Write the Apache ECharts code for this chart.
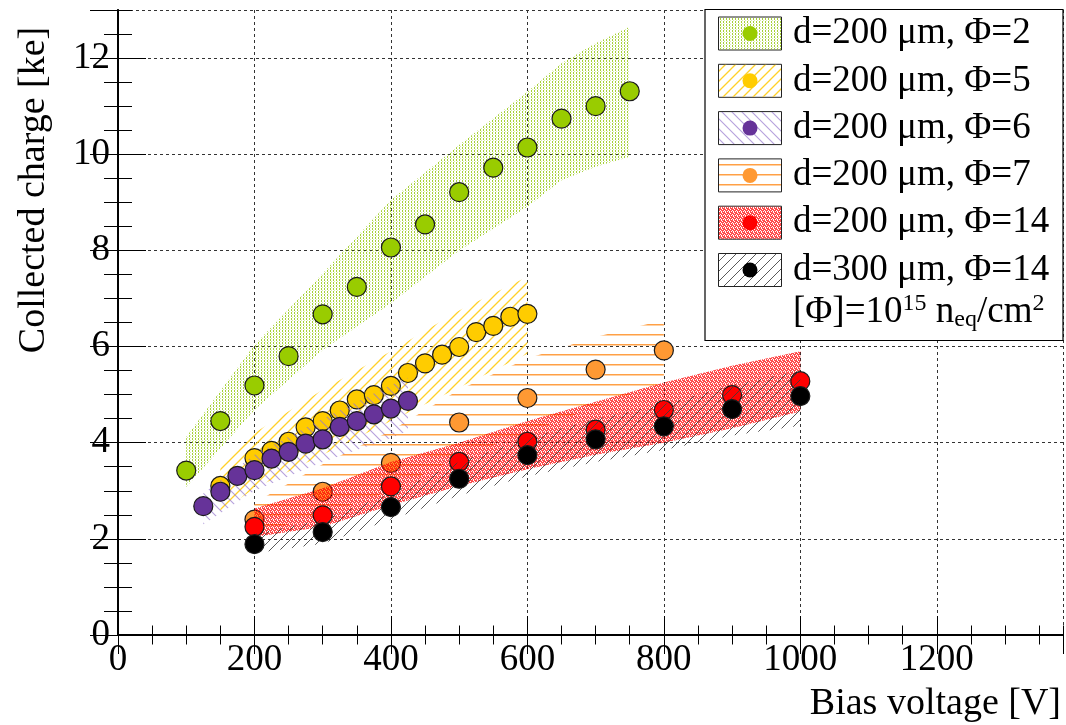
<!DOCTYPE html>
<html><head><meta charset="utf-8">
<script src="https://cdn.jsdelivr.net/npm/echarts@6/dist/echarts.min.js"></script>
</head><body style="margin:0">
<div id="c" style="width:1066px;height:725px"></div>
<script>
// ---------------- DATA ----------------
const xTickLabels = ['0','200','400','600','800','1000','1200'];
const yTickLabels = ['0','2','4','6','8','10','12'];

const legendLabels = ['d=200 μm, Φ=2','d=200 μm, Φ=5','d=200 μm, Φ=6','d=200 μm, Φ=7','d=200 μm, Φ=14','d=300 μm, Φ=14'];

// Φ=2, d=200
const phi2V = [100,150,200,250,300,350,400,450,500,550,600,650,700,750];
const phi2Q = [3.42,4.45,5.19,5.80,6.67,7.24,8.06,8.54,9.21,9.72,10.14,10.74,11.00,11.31];
const phi2BandV  = [100,200,300,400,500,600,650,700,750];
const phi2BandLo = [3.08,4.68,5.93,6.90,8.00,8.91,9.46,9.74,9.95];
const phi2BandHi = [4.12,6.03,7.52,9.05,10.19,11.30,11.89,12.31,12.65];

// Φ=5, d=200
const phi5V = [150,200,225,250,275,300,325,350,375,400,425,450,475,500,525,550,575,600];
const phi5Q = [3.10,3.68,3.83,4.02,4.32,4.45,4.67,4.90,4.99,5.18,5.45,5.65,5.83,5.99,6.30,6.43,6.62,6.68];
const phi5BandV  = [150,200,300,400,500,600];
const phi5BandLo = [2.55,3.05,3.75,4.45,5.15,5.85];
const phi5BandHi = [3.50,4.20,5.10,5.90,6.75,7.45];

// Φ=6, d=200
const phi6V = [125,150,175,200,225,250,275,300,325,350,375,400,425];
const phi6Q = [2.68,2.98,3.31,3.43,3.67,3.81,3.98,4.07,4.33,4.45,4.59,4.71,4.87];
const phi6BandV  = [125,200,300,400,425];
const phi6BandLo = [2.30,3.00,3.60,4.10,4.25];
const phi6BandHi = [2.95,3.75,4.50,5.20,5.35];

// Φ=7, d=200
const phi7V = [200,300,400,500,600,700,800];
const phi7Q = [2.40,2.98,3.58,4.42,4.93,5.52,5.92];
const phi7BandV  = [200,300,400,500,600,700,800];
const phi7BandLo = [2.10,2.50,3.00,3.70,4.20,4.75,5.25];
const phi7BandHi = [2.75,3.55,4.25,5.10,5.75,6.20,6.55];

// Φ=14, d=200
const phi14V = [200,300,400,500,600,700,800,900,1000];
const phi14Q = [2.25,2.49,3.09,3.60,4.02,4.27,4.68,4.99,5.28];
const phi14BandV  = [200,300,400,500,600,700,800,900,1000];
const phi14BandLo = [2.04,2.25,2.70,3.10,3.45,3.75,4.00,4.30,4.65];
const phi14BandHi = [2.63,3.05,3.60,4.00,4.45,4.85,5.25,5.60,5.90];

// Φ=14, d=300
const d300V = [200,300,400,500,600,700,800,900,1000];
const d300Q = [1.89,2.14,2.66,3.25,3.74,4.07,4.34,4.70,4.97];
const d300BandV  = [200,300,400,500,600,700,800,900,1000];
const d300BandLo = [1.70,1.90,2.40,2.90,3.30,3.60,3.85,4.15,4.35];
const d300BandHi = [2.10,2.40,2.95,3.60,4.10,4.50,4.80,5.20,5.50];

// ---------------- STYLE ----------------
const FONT = 'serif';

function makePattern(w, h, draw) {
  const cv = document.createElement('canvas');
  cv.width = w; cv.height = h;
  const ctx = cv.getContext('2d');
  draw(ctx, w, h);
  return { image: cv, repeat: 'repeat' };
}
function diag(ctx, s, up) {
  ctx.beginPath();
  if (up) {
    ctx.moveTo(0, s); ctx.lineTo(s, 0);
    ctx.moveTo(-s/2, s/2); ctx.lineTo(s/2, -s/2);
    ctx.moveTo(s/2, s*1.5); ctx.lineTo(s*1.5, s/2);
  } else {
    ctx.moveTo(0, 0); ctx.lineTo(s, s);
    ctx.moveTo(-s/2, s/2); ctx.lineTo(s/2, s*1.5);
    ctx.moveTo(s/2, -s/2); ctx.lineTo(s*1.5, s/2);
  }
  ctx.stroke();
}
const patGreen = makePattern(3, 3, (ctx) => {
  ctx.fillStyle = 'rgba(150,200,20,0.85)'; ctx.fillRect(0, 0, 1, 2);
  ctx.fillStyle = 'rgba(150,200,20,0.35)'; ctx.fillRect(1, 2, 1, 1);
});
const patYellow = makePattern(10, 10, (ctx) => {
  ctx.strokeStyle = 'rgba(255,205,30,0.95)'; ctx.lineWidth = 1.3; diag(ctx, 10, true);
});
const patPurple = makePattern(10, 10, (ctx) => {
  ctx.strokeStyle = 'rgba(150,120,205,0.7)'; ctx.lineWidth = 1.1; diag(ctx, 10, false);
});
const patOrange = makePattern(10, 10, (ctx) => {
  ctx.fillStyle = 'rgba(255,150,50,0.9)'; ctx.fillRect(0, 4, 10, 1.5);
});
const patRed = makePattern(4, 4, (ctx) => {
  const m = ['x.xx', 'xx.x', '.xxx', 'x.x.'];
  ctx.fillStyle = 'rgba(255,0,0,0.7)';
  for (let y = 0; y < 4; y++) for (let x = 0; x < 4; x++) if (m[y][x] === 'x') ctx.fillRect(x, y, 1, 1);
});
const patBlack = makePattern(10, 10, (ctx) => {
  ctx.strokeStyle = 'rgba(60,60,60,0.85)'; ctx.lineWidth = 1; diag(ctx, 10, true);
});

const groups = [
  { V: phi2V, Q: phi2Q, bV: phi2BandV, bLo: phi2BandLo, bHi: phi2BandHi, color: '#99cc00', pat: patGreen },
  { V: phi5V, Q: phi5Q, bV: phi5BandV, bLo: phi5BandLo, bHi: phi5BandHi, color: '#ffcc00', pat: patYellow },
  { V: phi6V, Q: phi6Q, bV: phi6BandV, bLo: phi6BandLo, bHi: phi6BandHi, color: '#663399', pat: patPurple },
  { V: phi7V, Q: phi7Q, bV: phi7BandV, bLo: phi7BandLo, bHi: phi7BandHi, color: '#ff9933', pat: patOrange },
  { V: phi14V, Q: phi14Q, bV: phi14BandV, bLo: phi14BandLo, bHi: phi14BandHi, color: '#ff0000', pat: patRed },
  { V: d300V, Q: d300Q, bV: d300BandV, bLo: d300BandLo, bHi: d300BandHi, color: '#000000', pat: patBlack }
];

function bandSeries(g, z) {
  const data = g.bV.map((v, i) => [v, g.bLo[i], g.bHi[i]]);
  return {
    type: 'custom', xAxisIndex: 0, yAxisIndex: 0, z: z, silent: true,
    data: data, encode: { x: 0, y: [1, 2] },
    renderItem: function (params, api) {
      if (params.dataIndex !== 0) return null;
      const pts = [];
      for (let i = 0; i < data.length; i++) pts.push(api.coord([data[i][0], data[i][2]]));
      for (let i = data.length - 1; i >= 0; i--) pts.push(api.coord([data[i][0], data[i][1]]));
      return { type: 'polygon', shape: { points: pts }, style: { fill: g.pat } };
    }
  };
}
function pointSeries(g, z) {
  return {
    type: 'scatter', xAxisIndex: 0, yAxisIndex: 0, z: z, silent: true,
    symbol: 'circle', symbolSize: 19,
    data: g.V.map((v, i) => [v, g.Q[i]]),
    itemStyle: { color: g.color, borderColor: '#1a1a1a', borderWidth: 1.2, opacity: 1 }
  };
}
const allSeries = [];
groups.forEach((g, i) => { allSeries.push(bandSeries(g, 2 + 2 * i)); allSeries.push(pointSeries(g, 3 + 2 * i)); });

function xLabel(v) { const i = xTickLabels.indexOf(String(v)); return i >= 0 ? xTickLabels[i] : ''; }
function yLabel(v) { const i = yTickLabels.indexOf(String(v)); return i >= 0 ? yTickLabels[i] : ''; }

const XMAX = 1385, YMAX = 13;
const axLine = { show: true, lineStyle: { color: '#000', width: 1.5 } };
const gridLine = { type: [3, 3], color: '#333', width: 1 };
function xAx(pos, interval, len, labels, split) {
  return {
    type: 'value', position: pos, min: 0, max: XMAX, interval: interval,
    axisLine: axLine,
    axisTick: { show: true, inside: true, length: len, lineStyle: { color: '#000', width: 1 } },
    axisLabel: labels ? { fontFamily: FONT, fontSize: 37, color: '#000', showMaxLabel: false, margin: 7, formatter: xLabel } : { show: false },
    splitLine: split ? { show: true, lineStyle: gridLine } : { show: false }
  };
}
function yAx(pos, interval, len, labels, split) {
  return {
    type: 'value', position: pos, min: 0, max: YMAX, interval: interval,
    axisLine: axLine,
    axisTick: { show: true, inside: true, length: len, lineStyle: { color: '#000', width: 1 } },
    axisLabel: labels ? { fontFamily: FONT, fontSize: 37, color: '#000', showMaxLabel: false, margin: 8, formatter: yLabel } : { show: false },
    splitLine: split ? { show: true, lineStyle: gridLine } : { show: false }
  };
}

const legendEls = [{
  type: 'rect', z: 100, shape: { x: 705, y: 9.5, width: 358, height: 331 },
  style: { fill: '#fff', stroke: '#000', lineWidth: 1.2 }
}];
groups.forEach((g, i) => {
  const cy = 33.5 + 47.3 * i;
  legendEls.push({ type: 'rect', z: 101, shape: { x: 718.5, y: cy - 16.5, width: 63, height: 33 }, style: { fill: '#fff', stroke: '#222', lineWidth: 1 } });
  legendEls.push({ type: 'rect', z: 102, shape: { x: 719, y: cy - 16, width: 62, height: 32 }, style: { fill: g.pat } });
  legendEls.push({ type: 'circle', z: 103, shape: { cx: 750, cy: cy, r: 7.5 }, style: { fill: g.color } });
  legendEls.push({ type: 'text', z: 103, x: 793, y: cy, style: { text: legendLabels[i], fontFamily: FONT, fontSize: 37, fill: '#000', align: 'left', verticalAlign: 'middle' } });
});
legendEls.push({
  type: 'text', z: 103, x: 793, y: 312,
  style: {
    text: '[Φ]=10{sup|15} n{sub|eq}/cm{sup|2}', fontFamily: FONT, fontSize: 37, fill: '#000',
    align: 'left', verticalAlign: 'middle',
    rich: {
      sup: { fontFamily: FONT, fontSize: 24, verticalAlign: 'top', lineHeight: 40, padding: [0, 0, 14, 0] },
      sub: { fontFamily: FONT, fontSize: 24, verticalAlign: 'bottom', lineHeight: 40, padding: [14, 0, 0, 0] }
    }
  }
});

const option = {
  animationDuration: 200,
  grid: { left: 118, right: 3, top: 10, bottom: 90 },
  xAxis: [
    xAx('bottom', 200, 19, true, true),
    xAx('bottom', 50, 9.5, false, false),
    xAx('top', 200, 19, false, false),
    xAx('top', 50, 9.5, false, false)
  ],
  yAxis: [
    yAx('left', 2, 28, true, true),
    yAx('left', 0.5, 14, false, false),
    yAx('right', 2, 28, false, false),
    yAx('right', 0.5, 14, false, false)
  ],
  series: allSeries,
  graphic: [
    { type: 'text', x: 34, y: 190, rotation: Math.PI / 2, z: 50,
      style: { text: 'Collected charge [ke]', fontFamily: FONT, fontSize: 38, fill: '#000', align: 'center', verticalAlign: 'middle' } },
    { type: 'text', x: 1061, y: 704, z: 50,
      style: { text: 'Bias voltage [V]', fontFamily: FONT, fontSize: 38, fill: '#000', align: 'right', verticalAlign: 'middle' } }
  ].concat(legendEls)
};

const chart = echarts.init(document.getElementById('c'));
chart.setOption(option);
</script>
</body></html>
